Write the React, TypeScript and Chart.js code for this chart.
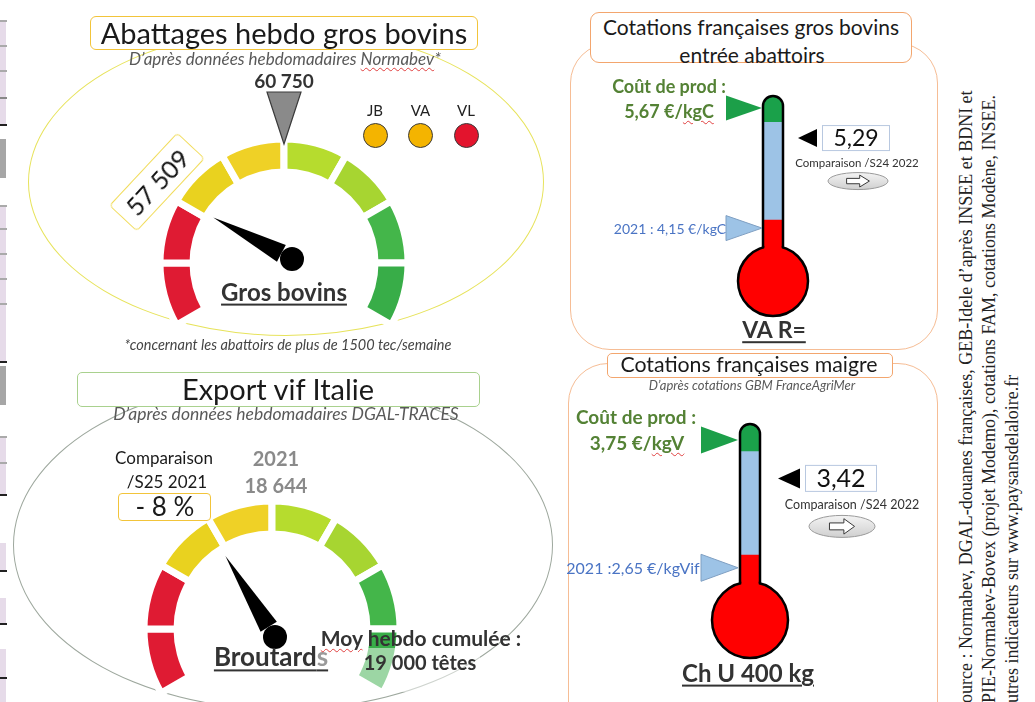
import React, { useEffect, useRef } from 'react';
import { Chart, registerables } from 'chart.js';
Chart.register(...registerables);

const FONT = 'Lato, "Open Sans", sans-serif';
const SERIF = '"Liberation Serif", "Times New Roman", serif';

// ================= DATA =================
const gaugeBandLabels = ['très bas', 'bas', 'assez bas', 'moyen -', 'moyen +', 'assez haut', 'haut', 'très haut'];
const gaugeBandWeights = [1, 1, 1, 1, 1, 1, 1, 1];

const abattagesRef = 60750;
const abattagesValue = 57509;
const abattagesScale = [54500, 67000];
const abattagesIndicators = ['JB', 'VA', 'VL'];
const abattagesIndicatorLevels = ['moyen', 'moyen', 'bas'];

const exportRefYear = '2021';
const exportRef = 18644;
const exportChangePct = -8;
const exportScale = [12950, 24340];
const exportCumulAvg = 19000;

const thermoCategories = ['VA R=', 'Ch U 400 kg'];
const thermoCost = [5.67, 3.75];
const thermoCostUnit = ['€/kgC', '€/kgV'];
const thermo2021 = [4.15, 2.65];
const thermo2021Unit = ['€/kgC', '€/kgVif'];
const thermoCurrent = [5.29, 3.42];
const thermoRedLevel = [4.25, 2.76];
const thermoGreenLevel = [5.49, 3.65];
const thermoAxisMin = [3.48, 2.2];
const thermoAxisMax = [5.81, 3.88];

// ================= STYLES =================
const bandColors = ['#df1b33', '#df1b33', '#e9d21f', '#efd126', '#b6dc2e', '#a7d531', '#44b64a', '#38ad48'];
const levelColors: Record<string, string> = { moyen: '#f4b400', bas: '#e3142d' };

const fmtInt = (n: number) => Math.round(n).toString().replace(/\B(?=(\d{3})+(?!\d))/g, ' ');
const fmtDec = (n: number) => n.toFixed(2).replace('.', ',');

type Extras = (ctx: CanvasRenderingContext2D, cx: number, cy: number, angleOf: (v: number) => number) => void;

function Gauge(p: {
  cx: number; cy: number; R: number; inner: number; value: number; min: number; max: number;
  pivot: [number, number]; needleLen: number; extras: Extras;
}) {
  const ref = useRef<HTMLCanvasElement>(null);
  const W = 320, H = 420;
  useEffect(() => {
    const angleOf = (v: number) => ((-210 + ((v - p.min) / (p.max - p.min)) * 240) * Math.PI) / 180;
    const plugin = {
      id: 'gaugeExtras',
      afterDatasetsDraw(chart: any) {
        const arc = chart.getDatasetMeta(0).data[0];
        const cx = arc.x, cy = arc.y;
        const ctx: CanvasRenderingContext2D = chart.ctx;
        ctx.save();
        p.extras(ctx, cx, cy, angleOf);
        const a = angleOf(p.value);
        const ux = Math.cos(a), uy = Math.sin(a), nx = -uy, ny = ux;
        const px = cx + p.pivot[0], py = cy + p.pivot[1];
        ctx.fillStyle = '#000';
        ctx.beginPath();
        ctx.moveTo(px + ux * p.needleLen, py + uy * p.needleLen);
        ctx.lineTo(px + ux * 12 + nx * 9.5, py + uy * 12 + ny * 9.5);
        ctx.lineTo(px + ux * 12 - nx * 9.5, py + uy * 12 - ny * 9.5);
        ctx.closePath();
        ctx.fill();
        ctx.beginPath();
        ctx.arc(px, py, 12, 0, Math.PI * 2);
        ctx.fill();
        ctx.restore();
      },
    };
    const chart = new Chart(ref.current as HTMLCanvasElement, {
      type: 'doughnut',
      data: {
        labels: gaugeBandLabels,
        datasets: [{ data: gaugeBandWeights, backgroundColor: bandColors, borderColor: '#ffffff', borderWidth: 7 }],
      },
      options: {
        responsive: false,
        animation: false,
        events: [],
        rotation: -120,
        circumference: 240,
        radius: p.R,
        cutout: (p.inner / p.R) * 100 + '%',
        plugins: { legend: { display: false }, tooltip: { enabled: false } },
      } as any,
      plugins: [plugin],
    });
    return () => chart.destroy();
  }, []);
  return (
    <canvas
      ref={ref}
      width={W}
      height={H}
      style={{ position: 'absolute', left: p.cx - W / 2, top: p.cy - H / 2 - p.R / 4, width: W, height: H }}
    />
  );
}

const thermoStyles = [
  {
    canvas: { left: 590, top: 70, width: 350, height: 280 }, area: { x0: 764, x1: 782, y0: 97, y1: 281 },
    bulbR: 35, triTip: 11, triW: 36, triH: 25,
    ptrTip: 25, ptrW: 19, ptrH: 18, boxL: 49, boxW: 68, boxH: 26, boxFont: 23,
    cmpX: 84, cmpDy: 25, cmpFont: 11.5, ovalX: 85, ovalDy: 43, ovalRx: 30, ovalRy: 8.5,
  },
  {
    canvas: { left: 570, top: 400, width: 370, height: 302 }, area: { x0: 741, x1: 759, y0: 425, y1: 620 },
    bulbR: 38, triTip: 12, triW: 37, triH: 27,
    ptrTip: 28, ptrW: 22, ptrH: 20, boxL: 55, boxW: 72, boxH: 27, boxFont: 25,
    cmpX: 102, cmpDy: 27, cmpFont: 12.5, ovalX: 92, ovalDy: 48, ovalRx: 33, ovalRy: 11,
  },
];

function Thermo({ i }: { i: number }) {
  const ref = useRef<HTMLCanvasElement>(null);
  const st = thermoStyles[i];
  const c = st.canvas;
  useEffect(() => {
    const plugin = {
      id: 'thermoExtras',
      afterDatasetsDraw(chart: any) {
        const ctx: CanvasRenderingContext2D = chart.ctx;
        const ys = chart.scales.y;
        const x = chart.getDatasetMeta(0).data[0].x;
        const top = ys.getPixelForValue(thermoAxisMax[i]);
        const bot = ys.getPixelForValue(thermoAxisMin[i]);
        const hw = 10;
        ctx.save();
        // bulb
        ctx.lineWidth = 2.5;
        ctx.strokeStyle = '#000';
        ctx.fillStyle = '#ff0000';
        ctx.beginPath();
        ctx.arc(x, bot, st.bulbR, 0, Math.PI * 2);
        ctx.fill();
        ctx.stroke();
        const jy = bot - Math.sqrt(st.bulbR * st.bulbR - hw * hw);
        ctx.fillRect(x - hw + 1.3, jy - 5, 2 * hw - 2.6, 12);
        // tube outline
        ctx.beginPath();
        ctx.moveTo(x - hw, jy);
        ctx.lineTo(x - hw, top + 9);
        ctx.arc(x, top + 9, hw, Math.PI, 0);
        ctx.lineTo(x + hw, jy);
        ctx.stroke();
        // markers
        const tri = (v: number, fill: string, stroke: string | null) => {
          const y = ys.getPixelForValue(v);
          const tx = x - st.triTip;
          ctx.beginPath();
          ctx.moveTo(tx, y);
          ctx.lineTo(tx - st.triW, y - st.triH / 2);
          ctx.lineTo(tx - st.triW, y + st.triH / 2);
          ctx.closePath();
          ctx.fillStyle = fill;
          ctx.fill();
          if (stroke) {
            ctx.lineWidth = 1;
            ctx.strokeStyle = stroke;
            ctx.stroke();
          }
        };
        tri(thermoCost[i], '#1c9f49', null);
        tri(thermo2021[i], '#9dc3e6', '#7f9fc2');
        // current pointer
        const yP = ys.getPixelForValue(thermoCurrent[i]);
        const px = x + st.ptrTip;
        ctx.fillStyle = '#000';
        ctx.beginPath();
        ctx.moveTo(px, yP);
        ctx.lineTo(px + st.ptrW, yP - st.ptrH / 2);
        ctx.lineTo(px + st.ptrW, yP + st.ptrH / 2);
        ctx.closePath();
        ctx.fill();
        const bx = x + st.boxL;
        ctx.fillStyle = '#fff';
        ctx.fillRect(bx, yP - st.boxH / 2, st.boxW, st.boxH);
        ctx.lineWidth = 1;
        ctx.strokeStyle = '#b8c8e0';
        ctx.strokeRect(bx + 0.5, yP - st.boxH / 2 + 0.5, st.boxW - 1, st.boxH - 1);
        ctx.fillStyle = '#111';
        ctx.font = `${st.boxFont}px ${FONT}`;
        ctx.textAlign = 'center';
        ctx.textBaseline = 'middle';
        ctx.fillText(fmtDec(thermoCurrent[i]), bx + st.boxW / 2, yP + 1);
        ctx.font = `${st.cmpFont}px ${FONT}`;
        ctx.fillStyle = '#333';
        ctx.fillText('Comparaison /S24 2022', x + st.cmpX, yP + st.cmpDy);
        // oval with arrow
        const ox = x + st.ovalX, oy = yP + st.ovalDy;
        const g = ctx.createLinearGradient(0, oy - st.ovalRy, 0, oy + st.ovalRy);
        g.addColorStop(0, '#f4f4f4');
        g.addColorStop(1, '#cfcfcf');
        ctx.beginPath();
        ctx.ellipse(ox, oy, st.ovalRx, st.ovalRy, 0, 0, Math.PI * 2);
        ctx.fillStyle = g;
        ctx.fill();
        ctx.strokeStyle = '#9a9a9a';
        ctx.stroke();
        const aw = st.ovalRx * 0.38, ah = st.ovalRy * 0.7;
        ctx.beginPath();
        ctx.moveTo(ox - aw, oy - ah * 0.45);
        ctx.lineTo(ox + aw * 0.15, oy - ah * 0.45);
        ctx.lineTo(ox + aw * 0.15, oy - ah);
        ctx.lineTo(ox + aw, oy);
        ctx.lineTo(ox + aw * 0.15, oy + ah);
        ctx.lineTo(ox + aw * 0.15, oy + ah * 0.45);
        ctx.lineTo(ox - aw, oy + ah * 0.45);
        ctx.closePath();
        ctx.fillStyle = '#fff';
        ctx.fill();
        ctx.strokeStyle = '#3a3a3a';
        ctx.stroke();
        ctx.restore();
      },
    };
    const chart = new Chart(ref.current as HTMLCanvasElement, {
      type: 'bar',
      data: {
        labels: [thermoCategories[i]],
        datasets: [
          { label: 'niveau', data: [[thermoAxisMin[i], thermoRedLevel[i]]], backgroundColor: '#ff0000', barThickness: 18, grouped: false },
          { label: 'écart', data: [[thermoRedLevel[i], thermoGreenLevel[i]]], backgroundColor: '#9dc3e6', barThickness: 18, grouped: false },
          {
            label: 'coût', data: [[thermoGreenLevel[i], thermoAxisMax[i]]], backgroundColor: '#1aa14a', barThickness: 18, grouped: false,
            borderRadius: { topLeft: 9, topRight: 9, bottomLeft: 0, bottomRight: 0 }, borderSkipped: false,
          },
        ],
      } as any,
      options: {
        responsive: false,
        animation: false,
        events: [],
        layout: {
          padding: {
            left: st.area.x0 - c.left, right: c.left + c.width - st.area.x1,
            top: st.area.y0 - c.top, bottom: c.top + c.height - st.area.y1,
          },
        },
        scales: {
          x: { display: false },
          y: { display: false, min: thermoAxisMin[i], max: thermoAxisMax[i] },
        },
        plugins: { legend: { display: false }, tooltip: { enabled: false } },
      } as any,
      plugins: [plugin],
    });
    return () => chart.destroy();
  }, []);
  return <canvas ref={ref} width={c.width} height={c.height} style={{ position: 'absolute', left: c.left, top: c.top, width: c.width, height: c.height }} />;
}

function T(props: {
  x: number; y: number; size: number; bold?: boolean; italic?: boolean; color?: string;
  children: React.ReactNode; style?: React.CSSProperties;
}) {
  return (
    <div
      style={{
        position: 'absolute', left: props.x, top: props.y, transform: 'translate(-50%, -50%)',
        fontFamily: FONT, fontSize: props.size, fontWeight: props.bold ? 700 : 400,
        fontStyle: props.italic ? 'italic' : 'normal', color: props.color || '#1a1a1a',
        whiteSpace: 'nowrap', lineHeight: 1.2, ...props.style,
      }}
    >
      {props.children}
    </div>
  );
}

const wavy: React.CSSProperties = { textDecoration: 'underline wavy #e04040', textDecorationThickness: '1px', textUnderlineOffset: '2px' };
const under: React.CSSProperties = { textDecoration: 'underline', textDecorationThickness: '2px', textUnderlineOffset: '3px' };

const box = (l: number, t: number, w: number, h: number, border: string, radius: number | string, extra: React.CSSProperties = {}) => (
  <div style={{ position: 'absolute', left: l, top: t, width: w, height: h, border, borderRadius: radius, boxSizing: 'border-box', ...extra }} />
);

const stripCells: [number, number, string][] = [
  [20, 105, '#e6dbe9'], [139, 39, '#a6a6a6'], [205, 156, '#e6dbe9'], [366, 39, '#a6a6a6'],
  [436, 58, '#e6dbe9'], [543, 27, '#e6dbe9'], [598, 25, '#e6dbe9'], [649, 53, '#e6dbe9'],
];
const stripLines: [number, string][] = [
  [20, '#aaa'], [45, '#aaa'], [70, '#aaa'], [97, '#888'], [124, '#222'], [205, '#aaa'], [228, '#aaa'], [253, '#aaa'],
  [278, '#aaa'], [303, '#aaa'], [361, '#222'], [436, '#aaa'], [462, '#aaa'], [494, '#222'], [570, '#222'], [623, '#222'], [677, '#222'],
];

export default function App() {
  return (
    <div style={{ position: 'absolute', left: 0, top: 0, width: 1035, height: 702, overflow: 'hidden', background: '#fff' }}>
      {stripCells.map(([t, h, col], k) => (
        <div key={'c' + k} style={{ position: 'absolute', left: 0, top: t, width: 6, height: h, background: col }} />
      ))}
      {stripLines.map(([t, col], k) => (
        <div key={'l' + k} style={{ position: 'absolute', left: 0, top: t, width: 7, height: 1.5, background: col }} />
      ))}

      {/* ellipses & panels */}
      {box(28, 28, 516, 308, '1.5px solid #e7e35c', '50%')}
      {box(13, 380, 540, 330, '1px solid #9ea89e', '50%')}
      {box(570, 43, 368, 307, '1.5px solid #f6bd95', 40)}
      {box(568, 363, 370, 380, '1.5px solid #f6bd95', 40)}

      {/* gauge 1 */}
      <Gauge
        cx={284} cy={263} R={124} inner={91} value={abattagesValue}
        min={abattagesScale[0]} max={abattagesScale[1]} pivot={[8, -4]} needleLen={89}
        extras={(ctx, cx, cy, angleOf) => {
          const an = angleOf(abattagesRef);
          const ux = Math.cos(an), uy = Math.sin(an), nx = -uy, ny = ux;
          ctx.beginPath();
          ctx.moveTo(cx + ux * 119, cy + uy * 119);
          ctx.lineTo(cx + ux * 171 + nx * 17, cy + uy * 171 + ny * 17);
          ctx.lineTo(cx + ux * 171 - nx * 17, cy + uy * 171 - ny * 17);
          ctx.closePath();
          ctx.fillStyle = '#8a8a8a';
          ctx.fill();
          ctx.strokeStyle = '#3a3a3a';
          ctx.lineWidth = 1.2;
          ctx.stroke();
          ctx.font = `bold 19px ${FONT}`;
          ctx.fillStyle = '#333';
          ctx.textAlign = 'center';
          ctx.textBaseline = 'middle';
          ctx.fillText(fmtInt(abattagesRef), cx + ux * 181, cy + uy * 181);
        }}
      />

      {/* gauge 2 */}
      <Gauge
        cx={272} cy={629} R={128} inner={95} value={exportRef * (1 + exportChangePct / 100)}
        min={exportScale[0]} max={exportScale[1]} pivot={[3, 8]} needleLen={95}
        extras={(ctx, cx, cy, angleOf) => {
          const an = angleOf(exportRef);
          const ux = Math.cos(an), uy = Math.sin(an);
          ctx.font = `bold 20px ${FONT}`;
          ctx.fillStyle = '#8a8a8a';
          ctx.textAlign = 'center';
          ctx.textBaseline = 'middle';
          ctx.fillText(exportRefYear, cx + 4 + ux * 169, cy + uy * 169);
          ctx.fillText(fmtInt(exportRef), cx + 4 + ux * 142, cy + uy * 142);
        }}
      />
      <div style={{ position: 'absolute', left: 330, top: 648, width: 150, height: 44, background: 'rgba(255,255,255,0.5)' }} />

      <Thermo i={0} />
      <Thermo i={1} />

      {/* ---- gauge 1 texts ---- */}
      {box(90, 16, 388, 34, '1.5px solid #f2c43a', 6, { background: '#fff' })}
      <T x={284} y={33} size={29}>Abattages hebdo gros bovins</T>
      <T x={285} y={59} size={17} italic color="#595959">
        D’après données hebdomadaires <span style={wavy}>Normabev</span>*
      </T>
      <div
        style={{
          position: 'absolute', left: 157, top: 182, width: 100, height: 38, transform: 'translate(-50%, -50%) rotate(-47deg)',
          border: '1.5px solid #f1dc5a', borderRadius: 4, boxSizing: 'border-box', display: 'flex', alignItems: 'center',
          justifyContent: 'center', fontFamily: FONT, fontSize: 25, color: '#111',
        }}
      >
        {fmtInt(abattagesValue)}
      </div>
      {abattagesIndicators.map((lab, k) => (
        <React.Fragment key={lab}>
          <T x={375 + k * 45.5} y={110} size={15} color="#222">{lab}</T>
          <div
            style={{
              position: 'absolute', left: 375 + k * 45.5 - 12.5, top: 135 - 12.5, width: 25, height: 25, borderRadius: '50%',
              background: levelColors[abattagesIndicatorLevels[k]], border: '1.5px solid #3a3a3a', boxSizing: 'border-box',
            }}
          />
        </React.Fragment>
      ))}
      <T x={284} y={292} size={24} bold color="#333" style={under}>Gros bovins</T>
      <T x={288} y={345} size={14.5} italic color="#444">*concernant les abattoirs de plus de 1500 tec/semaine</T>

      {/* ---- gauge 2 texts ---- */}
      {box(77, 372, 403, 35, '1.5px solid #a9d18e', 5, { background: '#fff' })}
      <T x={278} y={389} size={29}>Export vif Italie</T>
      <T x={286} y={413} size={17.5} italic color="#595959">D’après données hebdomadaires DGAL-TRACES</T>
      <T x={164} y={458} size={17}>Comparaison</T>
      <T x={167} y={482} size={17}>/S25 2021</T>
      {box(118, 493, 93, 28, '1.5px solid #f2c43a', 4, { background: '#fff' })}
      <T x={165} y={507} size={26}>{`${exportChangePct < 0 ? '-' : '+'} ${Math.abs(exportChangePct)} %`}</T>
      <T x={271} y={657} size={26} bold color="#333" style={under}>
        Broutard<span style={{ color: '#9a9a9a' }}>s</span>
      </T>
      <T x={421} y={638} size={21} bold color="#333">
        <span style={wavy}>Moy</span> hebdo cumulée :
      </T>
      <T x={420} y={662} size={20} bold color="#333">{`${fmtInt(exportCumulAvg)} têtes`}</T>

      {/* ---- thermo 1 texts ---- */}
      {box(590, 12, 322, 51, '1.5px solid #f3a66e', 9, { background: '#fff' })}
      <T x={751} y={27} size={21}>Cotations françaises gros bovins</T>
      <T x={752} y={55} size={21}>entrée abattoirs</T>
      <T x={669} y={87} size={18} bold color="#548235">Coût de prod :</T>
      <T x={669} y={112} size={18} bold color="#548235">
        {fmtDec(thermoCost[0])} €/<span style={wavy}>{thermoCostUnit[0].slice(2)}</span>
      </T>
      <T x={670} y={229} size={14} color="#4a74c4">{`2021 : ${fmtDec(thermo2021[0])} ${thermo2021Unit[0]}`}</T>
      <T x={774} y={330} size={23} bold color="#333" style={under}>{thermoCategories[0]}</T>

      {/* ---- thermo 2 texts ---- */}
      {box(607, 353, 286, 25, '1.5px solid #f3a66e', 5, { background: '#fff' })}
      <T x={749} y={365} size={21.3}>Cotations françaises maigre</T>
      <T x={752} y={386} size={13} italic color="#595959">D’après cotations GBM FranceAgriMer</T>
      <T x={636} y={417} size={19} bold color="#548235">Coût de prod :</T>
      <T x={637} y={443} size={19} bold color="#548235">
        {fmtDec(thermoCost[1])} €/<span style={wavy}>{thermoCostUnit[1].slice(2)}</span>
      </T>
      <T x={633} y={568} size={16} color="#4a74c4">{`2021 :${fmtDec(thermo2021[1])} ${thermo2021Unit[1]}`}</T>
      <T x={748} y={673} size={24} bold color="#333" style={under}>{thermoCategories[1]}</T>

      {/* ---- source ---- */}
      <div
        style={{
          position: 'absolute', left: 955, top: 703, transform: 'rotate(-90deg)', transformOrigin: '0 0',
          fontFamily: SERIF, fontSize: 18, lineHeight: '23px', whiteSpace: 'nowrap', color: '#222',
        }}
      >
        <div>ource : Normabev, DGAL-douanes françaises, GEB-Idele d’après INSEE et BDNI et</div>
        <div>PIE-Normabev-Bovex (projet Modemo), cotations FAM, cotations Modène, INSEE.</div>
        <div>utres indicateurs sur www.paysansdelaloire.fr</div>
      </div>
    </div>
  );
}
